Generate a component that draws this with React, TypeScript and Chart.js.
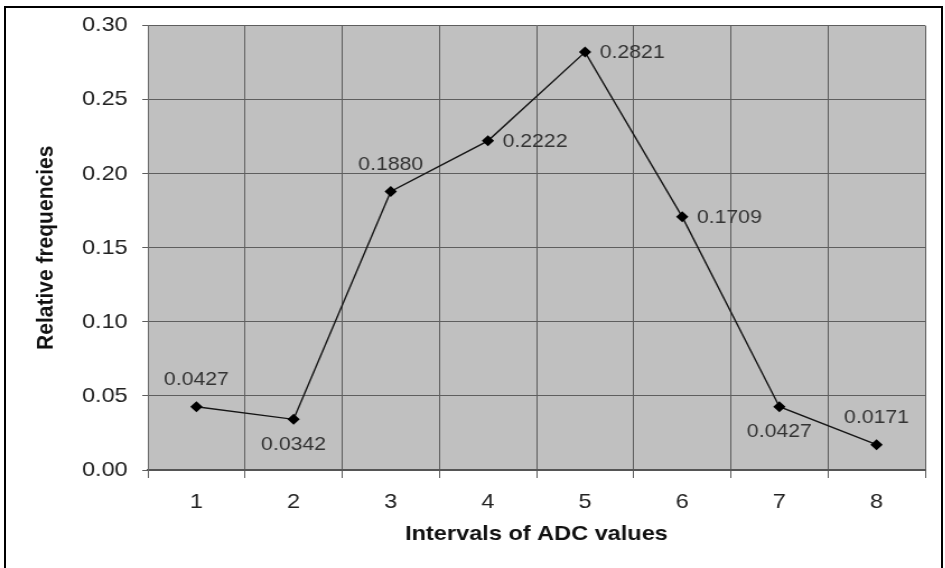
import React, { useEffect, useRef } from "react";
import { Chart, registerables } from "chart.js";

Chart.register(...registerables);

// ---- data ----
const categories = ["1", "2", "3", "4", "5", "6", "7", "8"];
const relativeFrequencies = [0.0427, 0.0342, 0.188, 0.2222, 0.2821, 0.1709, 0.0427, 0.0171];
const yTickValues = [0, 0.05, 0.1, 0.15, 0.2, 0.25, 0.3];
const labelPlacement = ["top", "bottom", "top", "right", "right", "right", "bottom", "top"];

// ---- layout ----
const STRETCH = 1.12;
const W = 844;
const H = 568;
const FONT = "'Liberation Sans', Arial, Helvetica, sans-serif";

const plotBackground = {
  id: "plotBackground",
  beforeDraw(chart: any) {
    const { ctx, chartArea } = chart;
    ctx.save();
    ctx.fillStyle = "#c0c0c0";
    ctx.fillRect(chartArea.left, chartArea.top, chartArea.right - chartArea.left, chartArea.bottom - chartArea.top);
    ctx.restore();
  },
};

const pointLabels = {
  id: "pointLabels",
  afterDatasetsDraw(chart: any) {
    const { ctx } = chart;
    const meta = chart.getDatasetMeta(0);
    ctx.save();
    ctx.font = `19px ${FONT}`;
    ctx.fillStyle = "#333333";
    meta.data.forEach((pt: any, i: number) => {
      const v = relativeFrequencies[i];
      const text = v.toFixed(4);
      const place = labelPlacement[i];
      let x = pt.x;
      let y = pt.y;
      if (place === "top") {
        ctx.textAlign = "center";
        ctx.textBaseline = "middle";
        y = pt.y - 27;
      } else if (place === "bottom") {
        ctx.textAlign = "center";
        ctx.textBaseline = "middle";
        y = pt.y + 25;
      } else {
        ctx.textAlign = "left";
        ctx.textBaseline = "middle";
        x = pt.x + 13;
        y = pt.y + 1;
      }
      ctx.fillText(text, x, y);
    });
    ctx.restore();
  },
};

export default function App() {
  const ref = useRef<HTMLCanvasElement | null>(null);

  useEffect(() => {
    if (!ref.current) return;
    const chart = new Chart(ref.current, {
      type: "line",
      data: {
        labels: categories,
        datasets: [
          {
            data: relativeFrequencies,
            borderColor: "#151515",
            borderWidth: 1.4,
            backgroundColor: "#000000",
            pointStyle: "rectRot",
            pointRadius: 5.5,
            pointBackgroundColor: "#000000",
            pointBorderColor: "#000000",
            pointBorderWidth: 0,
            tension: 0,
            fill: false,
          },
        ],
      },
      options: {
        responsive: false,
        devicePixelRatio: 1,
        animation: false,
        layout: { padding: { left: 0, top: 23, right: 18, bottom: 0 } },
        plugins: {
          legend: { display: false },
          tooltip: { enabled: false },
          title: { display: false },
        },
        scales: {
          x: {
            type: "category",
            offset: true,
            grid: {
              offset: true,
              color: (c: any) => (c.index >= categories.length ? "rgba(0,0,0,0)" : "#5e5e5e"),
              tickColor: "#5e5e5e",
              lineWidth: 1,
              tickLength: 8,
              drawTicks: true,
            },
            border: { display: true, color: "#555555", width: 2 },
            ticks: {
              color: "#222222",
              font: { family: FONT, size: 21 },
              padding: 12,
              maxRotation: 0,
            },
            title: {
              display: true,
              text: "Intervals of ADC values",
              color: "#111111",
              font: { family: FONT, size: 21, weight: "bold" },
              padding: { top: 0, bottom: 21 },
            },
            afterFit: (s: any) => {
              s.height = 98;
            },
          },
          y: {
            min: 0,
            max: 0.3,
            afterBuildTicks: (s: any) => {
              s.ticks = yTickValues.map((v) => ({ value: v }));
            },
            grid: {
              color: "#5e5e5e",
              tickColor: "#5e5e5e",
              lineWidth: 1,
              tickLength: 5,
            },
            border: { display: true, color: "#6a6a6a", width: 1 },
            ticks: {
              color: "#222222",
              font: { family: FONT, size: 21 },
              padding: 13,
              callback: (v: any) => Number(v).toFixed(2),
            },
            title: {
              display: true,
              text: "Relative frequencies",
              color: "#111111",
              font: { family: FONT, size: 21, weight: "bold" },
              padding: { top: 29, bottom: 0 },
            },
            afterFit: (s: any) => {
              s.width = 132;
            },
          },
        },
      },
      plugins: [plotBackground, pointLabels],
    });
    return () => chart.destroy();
  }, []);

  return (
    <div
      style={{
        position: "fixed",
        left: 0,
        top: 0,
        width: 945,
        height: 568,
        overflow: "hidden",
        background: "#ffffff",
      }}
    >
      <div
        style={{
          position: "absolute",
          left: 0,
          top: 0,
          width: W,
          height: H,
          transform: `scaleX(${STRETCH})`,
          transformOrigin: "0 0",
        }}
      >
        <canvas ref={ref} width={W} height={H} style={{ width: W, height: H, display: "block" }} />
      </div>
      <div
        style={{
          position: "absolute",
          left: 4,
          top: 6,
          width: 939,
          height: 620,
          border: "2px solid #000000",
          boxSizing: "border-box",
          pointerEvents: "none",
        }}
      />
    </div>
  );
}
